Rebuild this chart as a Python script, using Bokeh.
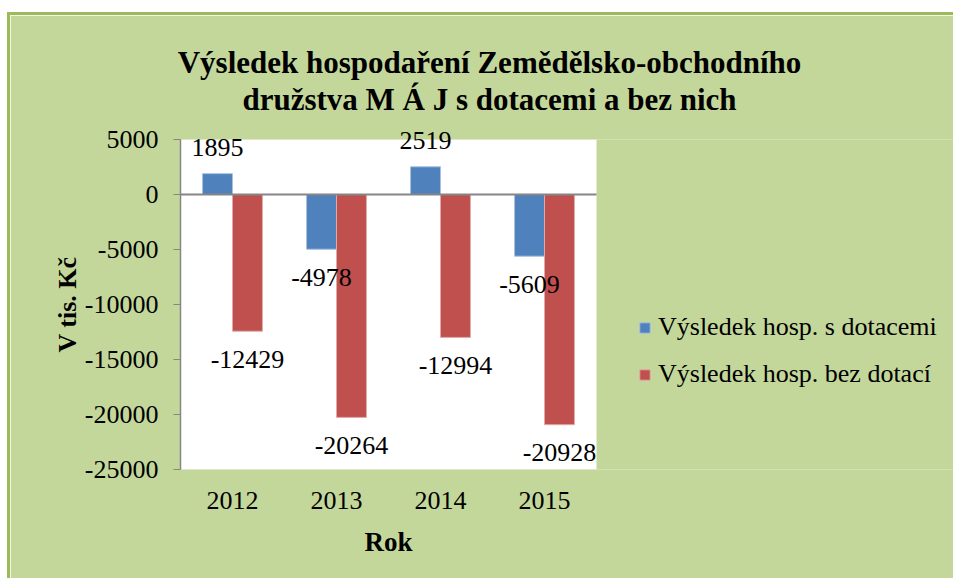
from bokeh.plotting import figure
from bokeh.models import (ColumnDataSource, Range1d, FixedTicker, Legend, LegendItem,
                          BoxAnnotation)
from bokeh.transform import dodge
from bokeh.core.properties import value
from bokeh.embed import file_html
from bokeh.resources import INLINE

# ---- data ----
years = ["2012", "2013", "2014", "2015"]
s_dotacemi = [1895, -4978, 2519, -5609]
bez_dotaci = [-12429, -20264, -12994, -20928]
y_ticks = [-25000, -20000, -15000, -10000, -5000, 0, 5000]
series_names = ["Výsledek hosp. s dotacemi", "Výsledek hosp. bez dotací"]
title_lines = ["Výsledek hospodaření Zemědělsko-obchodního",
               "družstva M Á J s dotacemi a bez nich"]
x_title = "Rok"
y_title = "V tis. Kč"

FONT = "Liberation Serif"
BG = "#C4D79B"
BORDER = "#9BBB59"
GRAY = "#868686"
BLUE = "#4F81BD"
RED = "#C0504D"

# layout (pixels): white plot area 416 px wide, frame continues under the legend
n = len(years)
PLOT_PX, FRAME_PX = 416, 776
xc = [i + 0.5 for i in range(n)]          # category centres
y_min, y_max = y_ticks[0], y_ticks[-1]

p = figure(x_range=Range1d(0, n * FRAME_PX / PLOT_PX), y_range=Range1d(y_min, y_max),
           width=946, height=566, output_backend="svg", toolbar_location=None,
           min_border_left=170, min_border_right=0, min_border_top=124, min_border_bottom=112)
p.styles = {"margin-left": "7px", "margin-top": "12px",
            "border-left": f"3px solid {BORDER}", "border-top": f"3px solid {BORDER}"}
p.border_fill_color = BG
p.background_fill_color = BG
p.outline_line_color = None
p.xgrid.grid_line_color = None
p.ygrid.grid_line_color = None

# white plot area
p.add_layout(BoxAnnotation(left=0, right=n, fill_color="white", fill_alpha=1,
                           line_color=None, level="underlay"))

src = ColumnDataSource(dict(x=xc, s=s_dotacemi, b=bez_dotaci))
r1 = p.vbar(x=dodge("x", -0.144), top="s", width=0.288, source=src,
            fill_color=BLUE, line_color="#A7C0E0", line_width=1)
r2 = p.vbar(x=dodge("x", 0.144), top="b", width=0.288, source=src,
            fill_color=RED, line_color="#E2A9A8", line_width=1)

# zero line across the plot area
p.segment(x0=[0], y0=[0], x1=[n], y1=[0], line_color=GRAY, line_width=2)

# data labels
def lab_src(vals):
    return ColumnDataSource(dict(x=xc, v=vals, t=[str(v) for v in vals],
                                 off=[-26 if v > 0 else 28 for v in vals]))

for vals, d in ((s_dotacemi, -0.144), (bez_dotaci, 0.144)):
    p.text(x=dodge("x", d), y="v", text="t", y_offset="off",
           source=lab_src(vals), text_align="center", text_baseline="middle",
           text_font=value(FONT), text_font_size="26px", text_color="black",
           level="annotation")

# title: two centred lines above the plot area
title_src = ColumnDataSource(dict(x=[n / 2] * 2, y=[y_max] * 2, t=title_lines,
                                  xo=[101, 101], yo=[-77, -40]))
p.text(x="x", y="y", text="t", x_offset="xo", y_offset="yo", source=title_src,
       text_align="center", text_baseline="alphabetic",
       text_font=value(FONT), text_font_size="31px", text_font_style="bold",
       text_color="black", level="annotation")

# x axis title, centred under the categories
p.text(x=[n / 2], y=[y_min], text=[x_title], y_offset=72,
       text_align="center", text_baseline="middle",
       text_font=value(FONT), text_font_size="27px", text_font_style="bold",
       text_color="black", level="annotation")

# axes
p.yaxis.ticker = FixedTicker(ticks=y_ticks)
p.yaxis.major_label_overrides = {t: str(t) for t in y_ticks}
p.yaxis.axis_line_color = GRAY
p.yaxis.axis_line_width = 1.5
p.yaxis.major_tick_line_color = GRAY
p.yaxis.major_tick_out = 7
p.yaxis.major_tick_in = 0
p.yaxis.minor_tick_line_color = None
p.yaxis.major_label_standoff = 15
p.yaxis.major_label_text_font = FONT
p.yaxis.major_label_text_font_size = "26px"
p.yaxis.major_label_text_color = "black"
p.yaxis.axis_label = y_title
p.yaxis.axis_label_text_font = FONT
p.yaxis.axis_label_text_font_size = "26px"
p.yaxis.axis_label_text_font_style = "bold"
p.yaxis.axis_label_text_color = "black"
p.yaxis.axis_label_standoff = 0

p.xaxis.ticker = FixedTicker(ticks=xc)
p.xaxis.major_label_overrides = {c: y for c, y in zip(xc, years)}
p.xaxis.axis_line_color = None
p.xaxis.major_tick_line_color = None
p.xaxis.minor_tick_line_color = None
p.xaxis.major_tick_out = 0
p.xaxis.major_label_standoff = 22
p.xaxis.major_label_text_font = FONT
p.xaxis.major_label_text_font_size = "26px"
p.xaxis.major_label_text_color = "black"

# legend (inside the frame, to the right of the white plot area)
legend = Legend(items=[LegendItem(label=series_names[0], renderers=[r1]),
                       LegendItem(label=series_names[1], renderers=[r2])],
                location=(458, 80), padding=0, margin=0, spacing=17,
                glyph_width=13, glyph_height=13, label_height=26, label_standoff=7,
                label_text_font=FONT, label_text_font_size="26px", label_text_color="black",
                background_fill_alpha=0, border_line_color=None)
p.add_layout(legend)

open("out.html", "w").write(file_html(p, INLINE))
